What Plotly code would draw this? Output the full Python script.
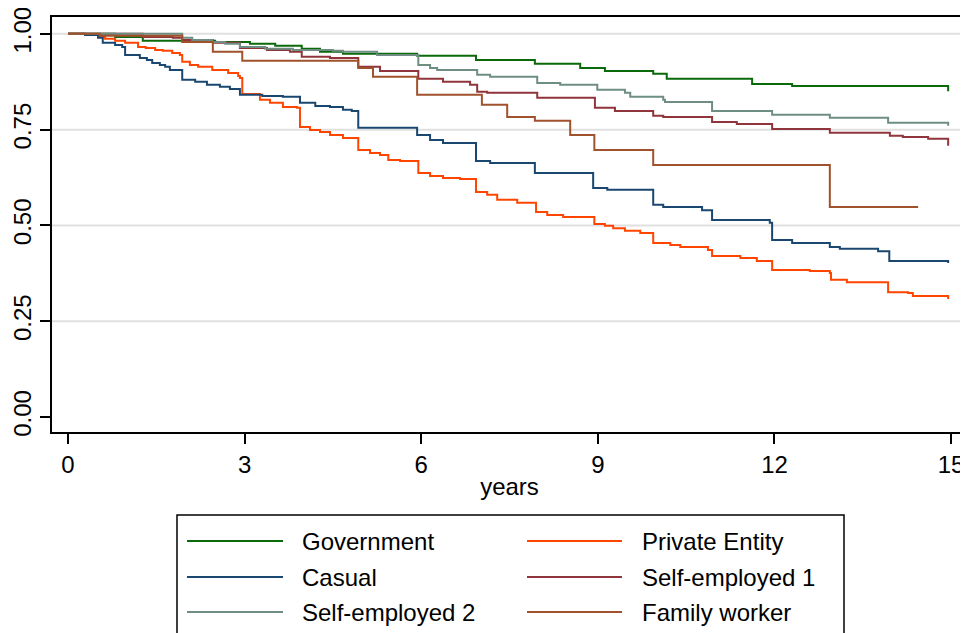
import plotly.graph_objects as go

# ---------------- data (Kaplan-Meier survival estimates) ----------------
series_names = ["Government", "Private Entity", "Casual",
                "Self-employed 1", "Self-employed 2", "Family worker"]
series_colors = ["#0a6a0a", "#ff4500", "#1a476f", "#90353b", "#6e8e84", "#a0522d"]

gov_t = [0, 0.80, 1.27, 2.50, 3.09, 3.52, 3.97, 4.28, 4.67, 5.93, 6.93, 7.93, 8.70,
         9.12, 9.94, 10.17, 11.62, 12.30, 14.95]
gov_s = [1.0, 0.992, 0.982, 0.979, 0.974, 0.969, 0.961, 0.953, 0.948, 0.943, 0.932,
         0.922, 0.911, 0.903, 0.896, 0.883, 0.869, 0.864, 0.850]

priv_t = [0, 0.29, 0.51, 0.63, 0.80, 0.97, 1.19, 1.32, 1.48, 1.61, 1.77, 1.90, 1.94,
          2.07, 2.21, 2.45, 2.72, 2.89, 2.92, 2.96, 3.26, 3.43, 3.65, 3.89, 3.94,
          4.11, 4.28, 4.45, 4.67, 4.93, 5.13, 5.30, 5.44, 5.64, 5.95, 6.15, 6.37,
          6.66, 6.93, 7.12, 7.29, 7.63, 7.95, 8.14, 8.41, 8.94, 9.12, 9.26, 9.46,
          9.72, 9.94, 10.23, 10.40, 10.87, 10.94, 11.42, 11.70, 11.96, 12.60, 12.94,
          12.96, 13.23, 13.93, 14.27, 14.35, 14.95]
priv_s = [1.0, 0.997, 0.992, 0.987, 0.982, 0.977, 0.966, 0.963, 0.958, 0.956, 0.950,
          0.945, 0.927, 0.919, 0.914, 0.906, 0.898, 0.890, 0.885, 0.843, 0.828,
          0.820, 0.809, 0.807, 0.757, 0.749, 0.744, 0.736, 0.728, 0.697, 0.689,
          0.684, 0.671, 0.668, 0.637, 0.629, 0.624, 0.621, 0.587, 0.580, 0.567,
          0.559, 0.535, 0.527, 0.522, 0.504, 0.499, 0.493, 0.486, 0.480, 0.454,
          0.449, 0.444, 0.436, 0.420, 0.415, 0.407, 0.384, 0.381, 0.376, 0.358,
          0.352, 0.326, 0.324, 0.316, 0.308]

cas_t = [0, 0.29, 0.51, 0.59, 0.80, 0.92, 0.97, 1.22, 1.34, 1.43, 1.56, 1.65, 1.73,
         1.94, 2.16, 2.36, 2.58, 2.75, 2.92, 3.30, 3.65, 3.94, 4.20, 4.45, 4.67,
         4.82, 4.93, 5.93, 6.15, 6.37, 6.93, 7.17, 7.93, 8.92, 9.16, 9.94, 10.11,
         10.77, 10.94, 11.92, 11.96, 12.30, 12.94, 13.11, 13.76, 13.95, 14.95]
cas_s = [1.0, 0.997, 0.990, 0.977, 0.971, 0.966, 0.945, 0.937, 0.932, 0.924, 0.919,
         0.914, 0.906, 0.880, 0.875, 0.867, 0.862, 0.856, 0.841, 0.838, 0.836,
         0.820, 0.812, 0.809, 0.802, 0.799, 0.755, 0.736, 0.723, 0.715, 0.668,
         0.663, 0.637, 0.598, 0.593, 0.554, 0.548, 0.540, 0.514, 0.507, 0.462,
         0.454, 0.444, 0.439, 0.433, 0.407, 0.402]

se1_t = [0, 1.27, 1.78, 1.94, 2.46, 2.92, 3.38, 3.77, 3.97, 4.45, 4.93, 5.30, 5.95,
         6.37, 6.83, 6.95, 7.12, 7.97, 8.95, 9.29, 9.94, 10.11, 10.94, 11.36, 11.96,
         12.94, 13.96, 14.18, 14.61, 14.95]
se1_s = [1.0, 0.992, 0.990, 0.984, 0.977, 0.963, 0.958, 0.953, 0.940, 0.937, 0.914,
         0.903, 0.883, 0.875, 0.867, 0.849, 0.846, 0.833, 0.807, 0.799, 0.786,
         0.783, 0.770, 0.765, 0.752, 0.742, 0.734, 0.731, 0.726, 0.708]

se2_t = [0, 1.94, 2.11, 2.45, 2.67, 2.92, 3.35, 3.82, 4.50, 4.67, 5.25, 5.95, 6.15,
         6.27, 6.95, 7.17, 7.97, 8.36, 8.99, 9.46, 9.55, 10.11, 10.14, 10.94, 11.96,
         12.94, 13.93, 14.95]
se2_s = [1.0, 0.990, 0.984, 0.979, 0.974, 0.966, 0.961, 0.958, 0.956, 0.953, 0.945,
         0.919, 0.911, 0.906, 0.893, 0.888, 0.872, 0.867, 0.854, 0.846, 0.836,
         0.828, 0.822, 0.799, 0.789, 0.781, 0.768, 0.760]

fam_t = [0, 0.54, 1.94, 2.46, 2.96, 4.93, 5.18, 5.93, 7.03, 7.46, 7.93, 8.53, 8.94,
         9.94, 12.94, 14.44]
fam_s = [1.0, 0.995, 0.979, 0.953, 0.930, 0.911, 0.888, 0.841, 0.815, 0.783, 0.773,
         0.736, 0.697, 0.658, 0.548, 0.548]

x_ticks = [0, 3, 6, 9, 12, 15]
y_ticks = [0, 0.25, 0.5, 0.75, 1.0]
y_grid = [0.25, 0.5, 0.75, 1.0]
x_title = "years"

all_t = [gov_t, priv_t, cas_t, se1_t, se2_t, fam_t]
all_s = [gov_s, priv_s, cas_s, se1_s, se2_s, fam_s]

FONT = "Liberation Sans, Arial, Helvetica, sans-serif"

# the page body has an 8px margin, so the figure is drawn at (8, 8)
OFF = 8
W, H = 968 - OFF, 633 - OFF

fig = go.Figure()
for name, col, t, s in zip(series_names, series_colors, all_t, all_s):
    fig.add_trace(go.Scatter(x=t, y=s, mode="lines", name=name,
                             line=dict(color=col, width=2, shape="hv"),
                             showlegend=False))

# gridlines (not at 0)
for g in y_grid:
    fig.add_shape(type="line", xref="paper", yref="y", x0=0, x1=1, y0=g, y1=g,
                  line=dict(color="#e0e0e0", width=2), layer="below")

# plot-area box in figure pixels
L, R, T, B = 52 - OFF, 967 - OFF, 17 - OFF, 432 - OFF
def px(xp):
    return (xp - OFF - L) / (R - L)
def py(yp):
    return (B - (yp - OFF)) / (B - T)

# ---------------- manual legend (Stata-style box, 2 columns) ----------------
fig.add_shape(type="rect", xref="paper", yref="paper",
              x0=px(177), x1=px(844), y0=py(515), y1=py(660),
              line=dict(color="black", width=1.5), fillcolor="white", layer="above")
col_line_x = [(187, 283), (527, 622)]
col_text_x = [300, 640]
row_y = [541, 577, 612]
for i, (name, col) in enumerate(zip(series_names, series_colors)):
    c, r = i % 2, i // 2
    fig.add_shape(type="line", xref="paper", yref="paper",
                  x0=px(col_line_x[c][0]), x1=px(col_line_x[c][1]),
                  y0=py(row_y[r]), y1=py(row_y[r]),
                  line=dict(color=col, width=2))
    fig.add_annotation(xref="paper", yref="paper", x=px(col_text_x[c]), y=py(row_y[r]),
                       text=name, showarrow=False, xanchor="left", yanchor="middle",
                       font=dict(family=FONT, size=24, color="black"))

fig.update_layout(
    width=W, height=H,
    margin=dict(l=L, r=W - R, t=T, b=H - B, pad=0),
    paper_bgcolor="white", plot_bgcolor="white",
    font=dict(family=FONT, size=24, color="black"),
    showlegend=False,
)
fig.update_xaxes(range=[-0.272, 15.27], tickmode="array", tickvals=x_ticks,
                 ticks="outside", ticklen=10, tickwidth=1.5, tickcolor="black",
                 showline=True, linecolor="black", linewidth=1.5, mirror=True,
                 showgrid=False, zeroline=False, automargin=False,
                 ticklabeloverflow="allow",
                 tickfont=dict(family=FONT, size=24, color="black"),
                 title=dict(text=x_title, font=dict(family=FONT, size=24, color="black"),
                            standoff=2))
fig.update_yaxes(range=[-0.039, 1.044], tickmode="array", tickvals=y_ticks,
                 tickformat=".2f", tickangle=-90,
                 ticks="outside", ticklen=10, tickwidth=1.5, tickcolor="black",
                 showline=True, linecolor="black", linewidth=1.5, mirror=True,
                 showgrid=False, zeroline=False, automargin=False,
                 ticklabeloverflow="allow",
                 tickfont=dict(family=FONT, size=24, color="black"))

fig.write_html("out.html")
